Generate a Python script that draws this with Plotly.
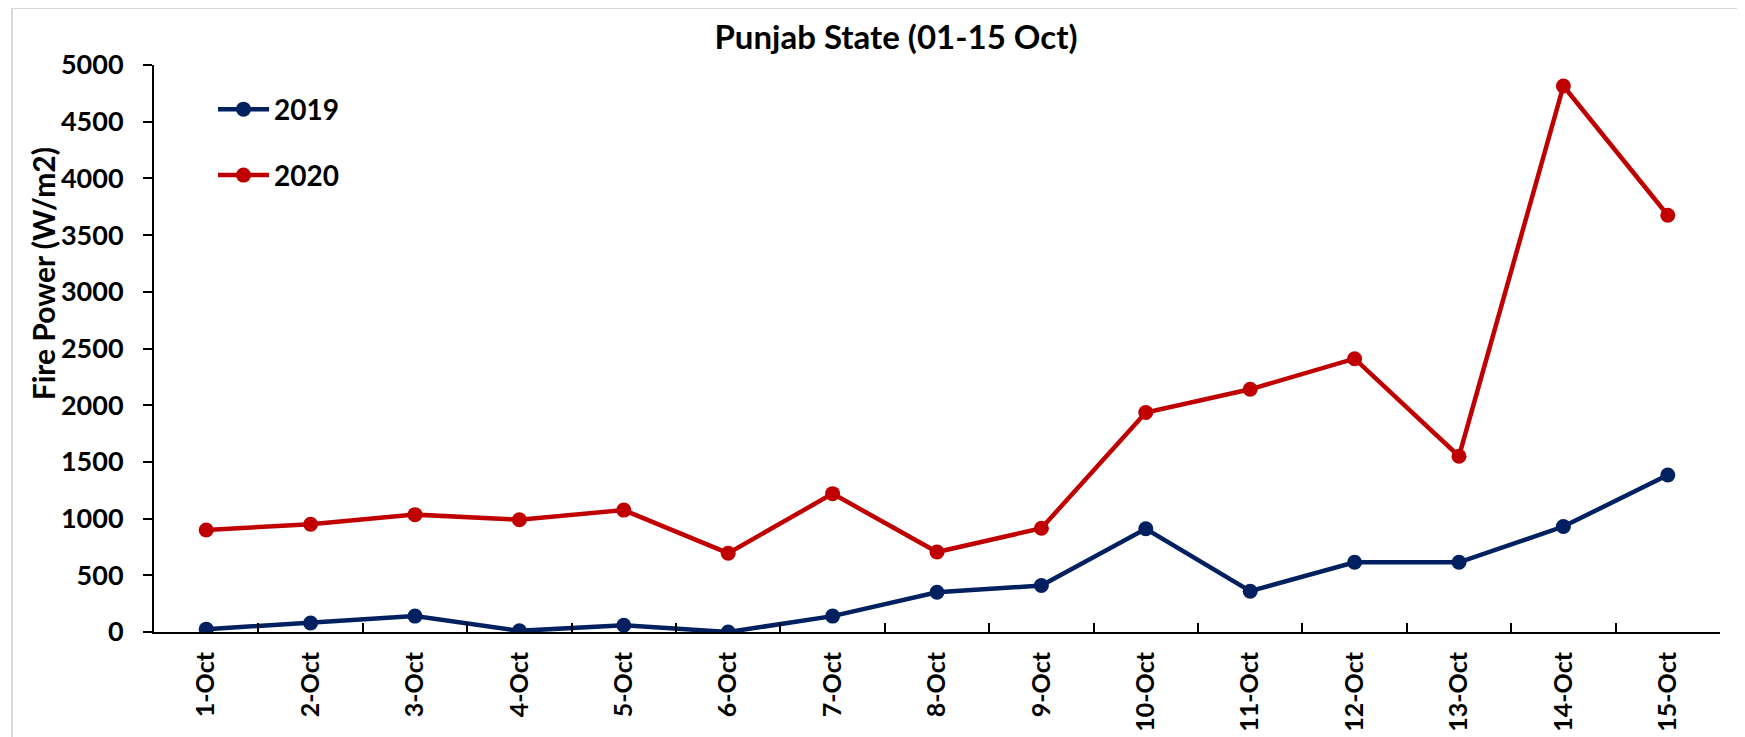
import plotly.graph_objects as go

dates = ["1-Oct", "2-Oct", "3-Oct", "4-Oct", "5-Oct", "6-Oct", "7-Oct", "8-Oct",
         "9-Oct", "10-Oct", "11-Oct", "12-Oct", "13-Oct", "14-Oct", "15-Oct"]
fp_2019 = [25, 80, 140, 10, 60, 0, 140, 350, 410, 910, 360, 615, 615, 930, 1385]
fp_2020 = [900, 950, 1035, 990, 1075, 695, 1220, 705, 915, 1935, 2140, 2410, 1550, 4815, 3675]

FONT = "Lato"
OFF = 8  # page body margin
W, H = 1745 - OFF, 737 - OFF
L, R, T, B = 154 - OFF, 1720 - OFF, 64.5 - OFF, 632 - OFF

fig = go.Figure()
fig.add_trace(go.Scatter(x=dates, y=fp_2019, mode="lines+markers", name="2019",
                         line=dict(color="#002060", width=4.5),
                         marker=dict(color="#002060", size=15),
                         showlegend=True, legend="legend"))
fig.add_trace(go.Scatter(x=dates, y=fp_2020, mode="lines+markers", name="2020",
                         line=dict(color="#C00000", width=4.5),
                         marker=dict(color="#C00000", size=15),
                         showlegend=True, legend="legend2"))

ph = B - T
pw = R - L
def px2x(px):
    return (px - OFF - L) / pw
def py2y(py):
    return (B - (py - OFF)) / ph

legfont = dict(family=FONT, size=28, color="black", weight="bold")
fig.update_layout(
    width=W, height=H, showlegend=True,
    margin=dict(l=L, r=W - R, t=T, b=H - B, autoexpand=False),
    paper_bgcolor="white", plot_bgcolor="white",
    font=dict(family=FONT, color="black"),
    title=dict(text="<b>Punjab State (01-15 Oct)</b>", x=(896 - OFF) / W, xanchor="center",
               y=1 - (37 - OFF) / H, yanchor="middle",
               font=dict(family=FONT, size=33, color="black")),
    legend=dict(x=px2x(213), y=py2y(109), xanchor="left", yanchor="middle",
                font=legfont, bgcolor="rgba(0,0,0,0)", itemwidth=51, visible=True),
    legend2=dict(x=px2x(213), y=py2y(175), xanchor="left", yanchor="middle",
                 font=legfont, bgcolor="rgba(0,0,0,0)", itemwidth=51, visible=True),
    xaxis=dict(type="category", range=[-0.5, 14.5], showline=True, linecolor="black",
               linewidth=2, ticks="inside", ticklen=9, tickwidth=1.5, tickcolor="black",
               tickson="boundaries", tickangle=-90, showgrid=False, zeroline=False,
               tickfont=dict(family=FONT, size=25, color="black", weight="bold"),
               ticklabelstandoff=8),
    yaxis=dict(range=[0, 5000], dtick=500, showline=True, linecolor="black", linewidth=2,
               ticks="outside", ticklen=9, tickwidth=1.5, tickcolor="black",
               showgrid=False, zeroline=False,
               tickfont=dict(family=FONT, size=27, color="black", weight="bold"),
               ticklabelstandoff=14),
)

# y-axis title (offset upward as in the reference)
fig.add_annotation(text="<b>Fire Power (W/m2)</b>", textangle=-90, showarrow=False,
                   xref="paper", yref="paper", x=px2x(43), y=py2y(274),
                   xanchor="center", yanchor="middle",
                   font=dict(family=FONT, size=30, color="black"))

# outer chart border
fig.add_shape(type="rect", xref="paper", yref="paper",
              x0=px2x(12), x1=px2x(1780), y0=py2y(780), y1=py2y(7.5),
              line=dict(color="#D9D9D9", width=2), fillcolor="rgba(0,0,0,0)", layer="below")

fig.write_html("out.html")
